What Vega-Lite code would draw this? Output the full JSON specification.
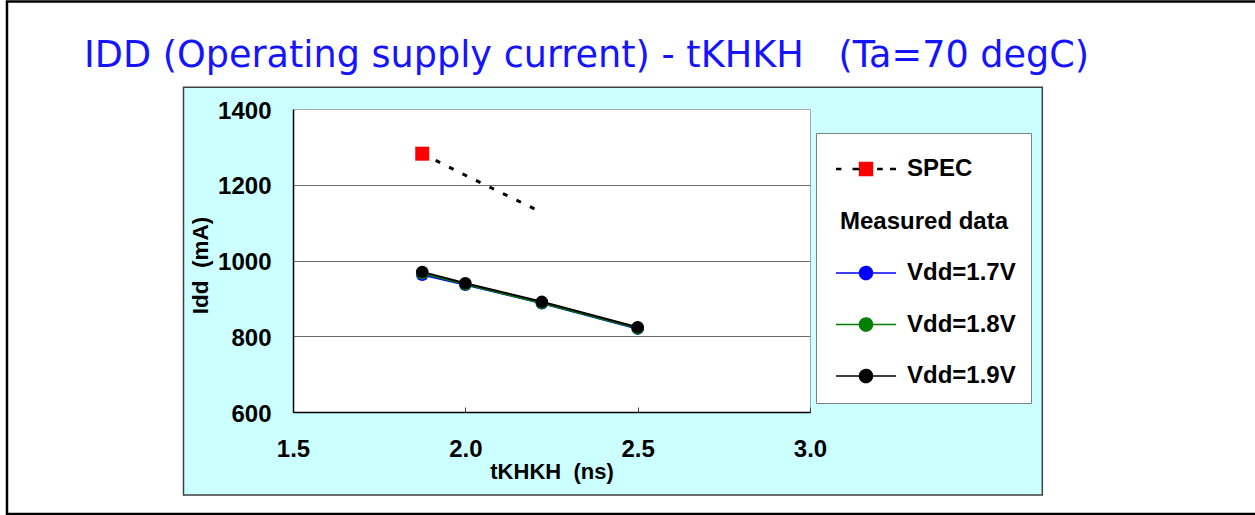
{
  "$schema": "https://vega.github.io/schema/vega-lite/v6.json",
  "autosize": {"type": "none"},
  "width": 517,
  "height": 303,
  "padding": {"left": 293, "top": 109, "right": 445, "bottom": 103},
  "background": "white",
  "title": {
    "text": "IDD (Operating supply current) - tKHKH\u00a0\u00a0\u00a0(Ta=70 degC)",
    "anchor": "start",
    "frame": "group",
    "dx": -209,
    "dy": 107,
    "font": "DejaVu Sans",
    "fontSize": 36.6,
    "fontWeight": "normal",
    "color": "#1414ff",
    "baseline": "alphabetic"
  },
  "datasets": {
    "idd": [
      {"series": "SPEC", "tCK": 1.875, "Idd": 1282},
      {"series": "SPEC", "tCK": 2.0, "Idd": 1225},
      {"series": "SPEC", "tCK": 2.222, "Idd": 1127},
      {"series": "Vdd=1.7V", "tCK": 1.875, "Idd": 962},
      {"series": "Vdd=1.7V", "tCK": 2.0, "Idd": 936},
      {"series": "Vdd=1.7V", "tCK": 2.222, "Idd": 887},
      {"series": "Vdd=1.7V", "tCK": 2.5, "Idd": 820},
      {"series": "Vdd=1.8V", "tCK": 1.875, "Idd": 966},
      {"series": "Vdd=1.8V", "tCK": 2.0, "Idd": 937},
      {"series": "Vdd=1.8V", "tCK": 2.222, "Idd": 888},
      {"series": "Vdd=1.8V", "tCK": 2.5, "Idd": 821},
      {"series": "Vdd=1.9V", "tCK": 1.875, "Idd": 970},
      {"series": "Vdd=1.9V", "tCK": 2.0, "Idd": 940},
      {"series": "Vdd=1.9V", "tCK": 2.222, "Idd": 891},
      {"series": "Vdd=1.9V", "tCK": 2.5, "Idd": 824}
    ],
    "frame": [{}]
  },
  "layer": [
    {
      "data": {"name": "frame"},
      "mark": {"type": "rect", "fillOpacity": 0, "stroke": "black", "strokeWidth": 2.5},
      "encoding": {
        "x": {"datum": 0.6702, "type": "quantitative"},
        "x2": {"datum": 4.364},
        "y": {"datum": 1683.8, "type": "quantitative"},
        "y2": {"datum": 330.7}
      }
    },
    {
      "data": {"name": "frame"},
      "mark": {"type": "rect", "fill": "#ccffff", "stroke": "#404040", "strokeWidth": 1.5},
      "encoding": {
        "x": {"datum": 1.1823, "type": "quantitative"},
        "x2": {"datum": 3.674},
        "y": {"datum": 1457.3, "type": "quantitative"},
        "y2": {"datum": 380.9}
      }
    },
    {
      "data": {"name": "frame"},
      "mark": {"type": "rect", "fill": "white"},
      "encoding": {
        "x": {"datum": 1.5, "type": "quantitative"},
        "x2": {"datum": 3.0},
        "y": {"datum": 1400, "type": "quantitative"},
        "y2": {"datum": 600}
      }
    },
    {
      "data": {"name": "idd"},
      "transform": [{"filter": "datum.series !== 'SPEC'"}],
      "mark": {"type": "line", "strokeWidth": 2},
      "encoding": {
        "x": {
          "field": "tCK", "type": "quantitative",
          "scale": {"domain": [1.5, 3.0], "nice": false, "zero": false},
          "axis": {
            "title": "tKHKH\u00a0\u00a0(ns)",
            "values": [1.5, 2.0, 2.5, 3.0],
            "format": ".1f",
            "labelFlush": false,
            "grid": true,
            "gridColor": "#a8a8a8",
            "gridOpacity": {"condition": {"test": "datum.value === 3", "value": 1}, "value": 0},
            "tickSize": -5,
            "tickColor": "#404040",
            "labelPadding": 30,
            "titlePadding": 0,
            "titleFontSize": 22,
            "zindex": 1
          }
        },
        "y": {
          "field": "Idd", "type": "quantitative",
          "scale": {"domain": [600, 1400], "nice": false, "zero": false},
          "axis": {
            "title": "Idd\u00a0\u00a0(mA)",
            "values": [600, 800, 1000, 1200, 1400],
            "format": "d",
            "labelFlush": false,
            "labelOffset": 2,
            "grid": true,
            "gridColor": {"condition": {"test": "datum.value === 1400", "value": "#a8a8a8"}, "value": "#6b6b6b"},
            "ticks": false,
            "labelPadding": 22,
            "titleFontSize": 22.5,
            "titleX": -81,
            "titleY": 156,
            "zindex": 1
          }
        },
        "stroke": {
          "field": "series", "type": "nominal",
          "scale": {
            "domain": ["SPEC", "Measured data", "Vdd=1.7V", "Vdd=1.8V", "Vdd=1.9V"],
            "range": ["#000000", "#ffffff", "#0000ff", "#008000", "#000000"]
          },
          "legend": {
            "orient": "none",
            "legendX": 523,
            "legendY": 24,
            "title": "\u00a0",
            "titleFontSize": 1,
            "titlePadding": 8,
            "fillColor": "white",
            "strokeColor": "#808080",
            "padding": 15,
            "symbolSize": 3600,
            "symbolOffset": 23,
            "symbolStrokeWidth": 1.5,
            "labelFont": "Liberation Sans",
            "labelFontSize": 24,
            "labelFontWeight": "bold",
            "labelColor": "black",
            "labelLimit": 400,
            "labelOffset": 29,
            "rowPadding": 27.5,
            "encode": {
              "symbols": {
                "update": {
                  "shape": {"signal": "datum.value === 'SPEC' ? 'M-1,0H-0.82M-0.45,0H-0.24V-0.24H0.24V0.24H-0.24V0ZM0.37,0H0.56M0.8,0H1' : 'M-1,0H1M-0.22,0A0.22,0.22 0 1,1 0.22,0A0.22,0.22 0 1,1 -0.22,0Z'"},
                  "size": {"value": 3600},
                  "strokeWidth": {"signal": "datum.value === 'SPEC' ? 2.5 : 1.3"},
                  "strokeDash": {"signal": "datum.value === 'SPEC' ? [6.5, 200] : [1, 0]"},
                  "opacity": {"signal": "datum.value === 'Measured data' ? 0 : 1"},
                  "fillOpacity": {"value": 1},
                  "strokeOpacity": {"value": 1}
                }
              },
              "labels": {
                "update": {
                  "dx": {"signal": "datum.value === 'Measured data' ? -67 : 0"}
                }
              }
            }
          }
        }
      }
    },
    {
      "data": {"name": "idd"},
      "transform": [{"filter": "datum.series !== 'SPEC'"}],
      "mark": {"type": "point", "shape": "circle", "filled": true, "size": 155, "opacity": 1},
      "encoding": {
        "x": {"field": "tCK", "type": "quantitative"},
        "y": {"field": "Idd", "type": "quantitative"},
        "fill": {
          "field": "series", "type": "nominal",
          "scale": {
            "domain": ["SPEC", "Measured data", "Vdd=1.7V", "Vdd=1.8V", "Vdd=1.9V"],
            "range": ["#ff0000", "#ffffff", "#0000ff", "#008000", "#000000"]
          },
          "legend": {
            "orient": "none",
            "legendX": 523,
            "legendY": 24,
            "title": "\u00a0",
            "titleFontSize": 1,
            "titlePadding": 8,
            "fillColor": "white",
            "strokeColor": "#808080",
            "padding": 15,
            "symbolSize": 3600,
            "symbolOffset": 23,
            "symbolStrokeWidth": 1.5,
            "labelFont": "Liberation Sans",
            "labelFontSize": 24,
            "labelFontWeight": "bold",
            "labelColor": "black",
            "labelLimit": 400,
            "labelOffset": 29,
            "rowPadding": 27.5,
            "encode": {
              "symbols": {
                "update": {
                  "shape": {"signal": "datum.value === 'SPEC' ? 'M-1,0H-0.82M-0.45,0H-0.24V-0.24H0.24V0.24H-0.24V0ZM0.37,0H0.56M0.8,0H1' : 'M-1,0H1M-0.22,0A0.22,0.22 0 1,1 0.22,0A0.22,0.22 0 1,1 -0.22,0Z'"},
                  "size": {"value": 3600},
                  "strokeWidth": {"signal": "datum.value === 'SPEC' ? 2.5 : 1.3"},
                  "strokeDash": {"signal": "datum.value === 'SPEC' ? [6.5, 200] : [1, 0]"},
                  "opacity": {"signal": "datum.value === 'Measured data' ? 0 : 1"},
                  "fillOpacity": {"value": 1},
                  "strokeOpacity": {"value": 1}
                }
              },
              "labels": {
                "update": {
                  "dx": {"signal": "datum.value === 'Measured data' ? -67 : 0"}
                }
              }
            }
          }
        }
      }
    },
    {
      "data": {"name": "idd"},
      "transform": [{"filter": "datum.series === 'SPEC'"}],
      "mark": {"type": "line", "color": "black", "strokeWidth": 3, "strokeDash": [5, 10]},
      "encoding": {
        "x": {"field": "tCK", "type": "quantitative"},
        "y": {"field": "Idd", "type": "quantitative"}
      }
    },
    {
      "data": {"name": "idd"},
      "transform": [{"filter": "datum.series === 'SPEC' && datum.tCK === 1.875"}],
      "mark": {"type": "point", "shape": "square", "filled": true, "size": 196, "color": "#ff0000", "opacity": 1},
      "encoding": {
        "x": {"field": "tCK", "type": "quantitative"},
        "y": {"field": "Idd", "type": "quantitative"}
      }
    }
  ],
  "config": {
    "view": {"stroke": "#a0a0a0", "strokeWidth": 1},
    "axis": {
      "domainColor": "black",
      "domainWidth": 1.5,
      "gridWidth": 1,
      "labelFont": "Liberation Sans",
      "labelFontSize": 24,
      "labelFontWeight": "bold",
      "labelColor": "black",
      "titleFont": "Liberation Sans",
      "titleFontSize": 21,
      "titleFontWeight": "bold",
      "titleColor": "black"
    }
  }
}
